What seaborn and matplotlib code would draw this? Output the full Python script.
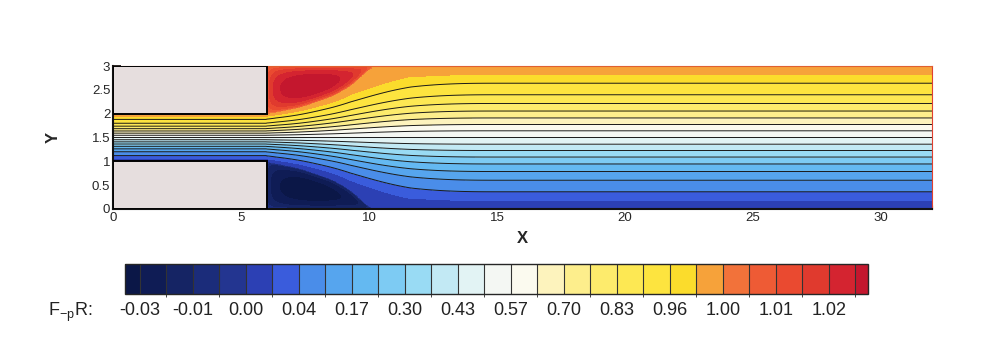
import numpy as np
import matplotlib
matplotlib.use("Agg")
import matplotlib.pyplot as plt
import seaborn as sns
from matplotlib.colors import ListedColormap, BoundaryNorm
from matplotlib.patches import Rectangle
from matplotlib.ticker import MultipleLocator

# contour levels of F_pR (28 bands, every other one labelled)
levels = [-0.03, -0.02, -0.01, -0.005, 0.00, 0.01, 0.04, 0.105, 0.17, 0.235,
          0.30, 0.365, 0.43, 0.50, 0.57, 0.635, 0.70, 0.765, 0.83, 0.895,
          0.96, 0.99, 1.00, 1.005, 1.01, 1.015, 1.02, 1.025]
band_colors = ["#0b1747", "#0f1c55", "#152464", "#1b2c7a", "#233590", "#2c40b4",
               "#3a5cdc", "#4a8de9", "#56a5ee", "#64b9f1", "#7dcbf3", "#99dbf4",
               "#c2e9f4", "#e2f3f4", "#f4f7f3", "#fbfaef", "#fdf3bd", "#fdee8c",
               "#fdeb6c", "#fde853", "#fde43f", "#fbdc2c", "#f6a23a", "#f2723a",
               "#ee5b35", "#ea4a30", "#e03a2e", "#d42430", "#c4172e"]
cbar_labels = ["-0.03", "-0.01", "0.00", "0.04", "0.17", "0.30", "0.43",
               "0.57", "0.70", "0.83", "0.96", "1.00", "1.01", "1.02"]

# geometry: inlet channel 1<y<2 for x<6, expansion to 0<y<3
step_x = 6.0
x_end = 32.0
# lower edge of the recirculation bubble (upper one mirrors it)
div_x = [6.0, 7.3, 8.6, 9.3, 9.7, 10.1, 32.0]
div_y = [1.0, 0.86, 0.62, 0.40, 0.2, 0.0, 0.0]
# lower edge of the through-flow core (slow layer lies between the two)
core_x = [6.0, 7.3, 8.6, 9.3, 10.0, 11.0, 12.0, 13.0, 14.0, 32.0]
core_y = [1.0, 0.88, 0.68, 0.55, 0.40, 0.22, 0.10, 0.03, 0.0, 0.0]
slow_layer = 0.008
# recirculation bubbles: centre and extreme value
bubble_x = 7.6
bubble_low = -0.037
bubble_high = 1.03

x = np.linspace(0, x_end, 900)
y = np.linspace(0, 3, 360)
X, Y = np.meshgrid(x, y)


def smooth(v, width):
    k = np.exp(-0.5 * (np.arange(-3 * width, 3 * width + 1) / width) ** 2)
    k /= k.sum()
    vp = np.pad(v, 3 * width, mode="edge")
    return np.convolve(vp, k, mode="valid")


b_line = np.clip(smooth(np.interp(x, div_x, div_y), 5), 0, 1)
m_line = np.clip(smooth(np.interp(x, core_x, core_y), 14), 0, 1)
b_line[x < step_x] = 1.0
m_line[x < step_x] = 1.0
m_line = np.maximum(m_line, b_line)
b = np.broadcast_to(b_line, X.shape)
m = np.broadcast_to(m_line, X.shape)
eps = slow_layer * np.clip((m - b) / 0.15, 0, 1)

prof = lambda u: 3 * u**2 - 2 * u**3
s = np.clip((Y - m) / (3 - 2 * m), 0, 1)
Z = eps + (1 - 2 * eps) * prof(s)
gap = np.maximum(m - b, 1e-6)
Z = np.where((Y >= b) & (Y < m), eps * (Y - b) / gap, Z)
Z = np.where((Y <= 3 - b) & (Y > 3 - m), 1 - eps * (3 - b - Y) / gap, Z)

# bubbles behind the step
xr = div_x[5]
xi = np.clip((X - step_x) / (xr - step_x), 0, 1)
p = 0.35
pk = (bubble_x - step_x) / (xr - step_x)
q = p * (1 - pk) / pk
phi = xi**p * (1 - xi) ** q
phi = phi / phi.max()
inb = (X >= step_x) & (X < xr)
eta_low = np.clip(Y / np.maximum(b, 1e-6), 0, 1)
eta_up = np.clip((3 - Y) / np.maximum(b, 1e-6), 0, 1)
shape_low = (4 * eta_low * (1 - eta_low)) ** 0.5
shape_up = (4 * eta_up * (1 - eta_up)) ** 0.5
Z = np.where(inb & (Y < b), bubble_low * phi * shape_low, Z)
Z = np.where(inb & (Y > 3 - b), 1 + (bubble_high - 1) * phi * shape_up, Z)

# solid blocks
solid = (X < step_x) & ((Y < 1) | (Y > 2))
Z = np.ma.masked_where(solid, Z)

sns.set_style("ticks")
plt.rcParams["font.family"] = ["Liberation Sans", "DejaVu Sans"]

fig = plt.figure(figsize=(9.92, 3.38), dpi=100)
ax = fig.add_axes([0.1139, 0.3817, 0.8256, 0.4230])

cmap = ListedColormap(band_colors)
norm = BoundaryNorm(levels, ncolors=len(band_colors), extend="both")
cf = ax.contourf(X, Y, Z, levels=levels, cmap=cmap, norm=norm, extend="both")
line_levels = [v for v in levels if 0.01 < v < 0.99]
ax.contour(X, Y, Z, levels=line_levels, colors="#1a1a1a", linewidths=0.7)

for y0 in (0, 2):
    ax.add_patch(Rectangle((0, y0), step_x, 1, facecolor="#e6dede",
                           edgecolor="black", linewidth=1.4, zorder=3))

ax.set_xlim(0, x_end)
ax.set_ylim(0, 3)
ax.xaxis.set_major_locator(MultipleLocator(5))
ax.xaxis.set_minor_locator(MultipleLocator(1))
ax.yaxis.set_major_locator(MultipleLocator(0.5))
ax.yaxis.set_minor_locator(MultipleLocator(0.1))
ax.yaxis.set_major_formatter(plt.FuncFormatter(lambda v, p: f"{v:g}"))
ax.tick_params(which="both", direction="in", top=False, right=False,
               labelsize=9.5, pad=2, color="#111111")
ax.tick_params(which="major", length=6, width=1.3)
ax.tick_params(which="minor", length=3, width=0.8)
for side in ("left", "bottom"):
    ax.spines[side].set_linewidth(1.5)
    ax.spines[side].set_color("#111111")
ax.spines["top"].set_color("#e06030")
ax.spines["right"].set_color("#e04030")
ax.set_xlabel("X", fontsize=12, fontweight="bold", labelpad=5)
ax.set_ylabel("Y", fontsize=12, fontweight="bold", labelpad=22)

cax = fig.add_axes([0.126, 0.1302, 0.749, 0.0888])
cb = fig.colorbar(cf, cax=cax, orientation="horizontal", extendrect=True,
                  extendfrac=(0.021, 0.018), drawedges=True, spacing="uniform")
cb.set_ticks(levels[0::2])
cb.set_ticklabels(cbar_labels)
cb.ax.tick_params(length=0, labelsize=13, pad=6, labelcolor="#222222")
cb.outline.set_linewidth(1.0)
cb.dividers.set_linewidth(0.8)
cb.dividers.set_color("#333333")
fig.text(0.048, 0.077, r"F$_{\mathregular{-p}}$R:", fontsize=13, va="center",
         color="#222222")

fig.savefig("out.png", dpi=100, facecolor="white")
